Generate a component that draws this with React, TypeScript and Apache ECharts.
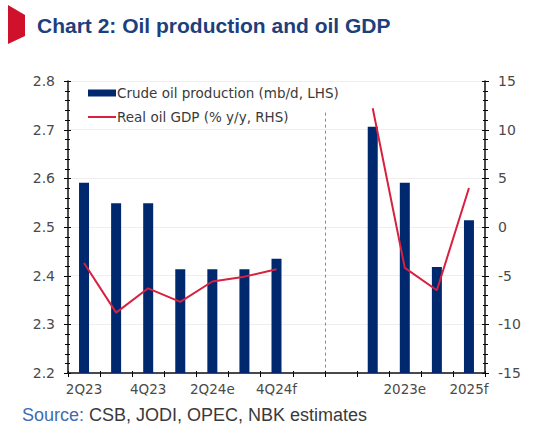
import React, { useEffect, useRef } from "react";
import * as echarts from "echarts";

const categories = ["2Q23", "3Q23", "4Q23", "1Q24", "2Q24e", "3Q24e", "4Q24f", "", "", "2022", "2023e", "2024f", "2025f"];
const oilProduction = [2.591, 2.549, 2.549, 2.413, 2.413, 2.413, 2.435, null, null, 2.706, 2.591, 2.418, 2.514];
const oilGdp = [-3.7, -8.8, -6.3, -7.7, -5.6, -5.1, -4.35, null, null, 12.2, -4.2, -6.5, 4.0];
const leftTicks = { min: 2.2, max: 2.8, interval: 0.1 };
const rightTicks = { min: -15, max: 15, interval: 5 };
const seriesNames = ["Crude oil production (mb/d, LHS)", "Real oil GDP (% y/y, RHS)"];
const titleText = "Chart 2: Oil production and oil GDP";
const sourceLabel = "Source:";
const sourceText = " CSB, JODI, OPEC, NBK estimates";

const FONT = "Liberation Sans, Arial, sans-serif";
const TICKFONT = "DejaVu Sans, Verdana, sans-serif";
const MINOR_SPLITS = 5;

const lineIcon = "path://M0,0L0.01,0L0.01,0.01L0,0.01Z M0,2.6L28,2.6L28,4.4L0,4.4Z M0,7L0.01,7L0.01,6.99L0,6.99Z";

export default function App() {
  const ref = useRef<HTMLDivElement>(null);
  useEffect(() => {
    if (!ref.current) return;
    const chart = echarts.init(ref.current, null, { renderer: "svg" });
    const axisCommon = {
      axisLine: { show: true, onZero: false, lineStyle: { color: "#111", width: 1.5 } },
      axisTick: { show: false },
      minorTick: { show: false },
      axisLabel: { color: "#4a4a4a", fontSize: 14, fontFamily: TICKFONT, margin: 13 },
    };
    chart.setOption({
      animation: false,
      backgroundColor: "#fff",
      grid: { left: 68, right: 55, top: 81, bottom: 58, containLabel: false },
      legend: {
        orient: "vertical",
        left: 83,
        top: 81,
        itemGap: 10,
        itemWidth: 28,
        itemHeight: 7,
        textStyle: { color: "#3a3a3a", fontSize: 13.5, fontFamily: TICKFONT, padding: [0, 0, 0, -4] },
        data: [
          { name: seriesNames[0], icon: "rect" },
          { name: seriesNames[1], icon: lineIcon },
        ],
      },
      xAxis: {
        type: "category",
        data: categories,
        boundaryGap: true,
        axisLine: { show: true, onZero: false, lineStyle: { color: "#111", width: 1.5 } },
        axisTick: { show: false },
        axisLabel: { interval: 1, color: "#4a4a4a", fontSize: 13.5, fontFamily: TICKFONT, margin: 9 },
        splitLine: { show: false },
      },
      yAxis: [
        {
          type: "value",
          position: "left",
          ...leftTicks,
          ...axisCommon,
          axisLabel: { ...axisCommon.axisLabel, formatter: (v: number) => v.toFixed(1) },
          splitLine: { show: true, lineStyle: { color: "#eeeeee", width: 1 } },
        },
        {
          type: "value",
          position: "right",
          ...rightTicks,
          ...axisCommon,
          splitLine: { show: false },
        },
      ],
      series: [
        {
          name: seriesNames[0],
          type: "bar",
          yAxisIndex: 0,
          data: oilProduction,
          barWidth: 10,
          itemStyle: { color: "#00286e" },
        },
        {
          name: seriesNames[1],
          type: "line",
          yAxisIndex: 1,
          data: oilGdp,
          symbol: "none",
          connectNulls: false,
          lineStyle: { color: "#d8203f", width: 2 },
          itemStyle: { color: "#d8203f" },
        },
      ],
    });

    const px = (i: number) => chart.convertToPixel({ xAxisIndex: 0 }, i) as number;
    const c0 = px(0);
    const w = px(1) - c0;
    const sepX = Math.round(c0 - w / 2 + 8 * w) + 0.5;
    const yTop = chart.convertToPixel({ yAxisIndex: 0 }, 2.735) as number;
    const yBot = chart.convertToPixel({ yAxisIndex: 0 }, leftTicks.min) as number;
    const leftX = chart.convertToPixel({ yAxisIndex: 0 }, leftTicks.min) as number;
    void leftX;
    const gridLeftX = Math.round(c0 - w / 2);
    const gridRightX = Math.round(c0 - w / 2 + categories.length * w);

    const tickEls: any[] = [];
    const tickStyle = { stroke: "#000", lineWidth: 1 };
    // Left axis ticks
    const lSteps = Math.round((leftTicks.max - leftTicks.min) / (leftTicks.interval / MINOR_SPLITS));
    for (let k = 0; k <= lSteps; k++) {
      const v = leftTicks.min + (k * leftTicks.interval) / MINOR_SPLITS;
      const y = Math.round(chart.convertToPixel({ yAxisIndex: 0 }, v) as number) + 0.5;
      const major = k % MINOR_SPLITS === 0;
      tickEls.push({ type: "line", shape: { x1: gridLeftX - (major ? 4 : 3), y1: y, x2: gridLeftX + (major ? 3 : 2), y2: y }, style: tickStyle });
    }
    const rSteps = Math.round((rightTicks.max - rightTicks.min) / (rightTicks.interval / MINOR_SPLITS));
    for (let k = 0; k <= rSteps; k++) {
      const v = rightTicks.min + (k * rightTicks.interval) / MINOR_SPLITS;
      const y = Math.round(chart.convertToPixel({ yAxisIndex: 1 }, v) as number) + 0.5;
      const major = k % MINOR_SPLITS === 0;
      tickEls.push({ type: "line", shape: { x1: gridRightX - (major ? 3 : 2), y1: y, x2: gridRightX + (major ? 4 : 3), y2: y }, style: tickStyle });
    }
    for (let k = 0; k <= categories.length; k++) {
      const x = Math.round(c0 - w / 2 + k * w) + 0.5;
      tickEls.push({ type: "line", shape: { x1: x, y1: yBot - 2, x2: x, y2: yBot + 4 }, style: tickStyle });
    }

    chart.setOption({
      graphic: [
        {
          type: "polygon",
          shape: { points: [[8, 5], [25, 15], [25, 36], [8, 44]] },
          style: { fill: "#d0112b" },
        },
        {
          type: "text",
          x: 37,
          y: 25,
          style: {
            text: titleText,
            fill: "#1d3f7c",
            font: `bold 21px ${FONT}`,
            verticalAlign: "middle",
          },
        },
        {
          type: "line",
          shape: { x1: sepX, y1: yTop, x2: sepX, y2: yBot },
          style: { stroke: "#8a8a8a", lineWidth: 1, lineDash: [3, 3] },
        },
        ...tickEls,
        {
          type: "text",
          x: 22,
          y: 415,
          style: {
            text: `{a|${sourceLabel}}{b|${sourceText}}`,
            verticalAlign: "middle",
            rich: {
              a: { fill: "#3f6cb0", font: `18px ${FONT}` },
              b: { fill: "#3a3a3a", font: `18px ${FONT}` },
            },
          },
        },
      ],
    });
    return () => chart.dispose();
  }, []);
  return <div ref={ref} style={{ width: 540, height: 431, position: "absolute", left: 0, top: 0 }} />;
}
